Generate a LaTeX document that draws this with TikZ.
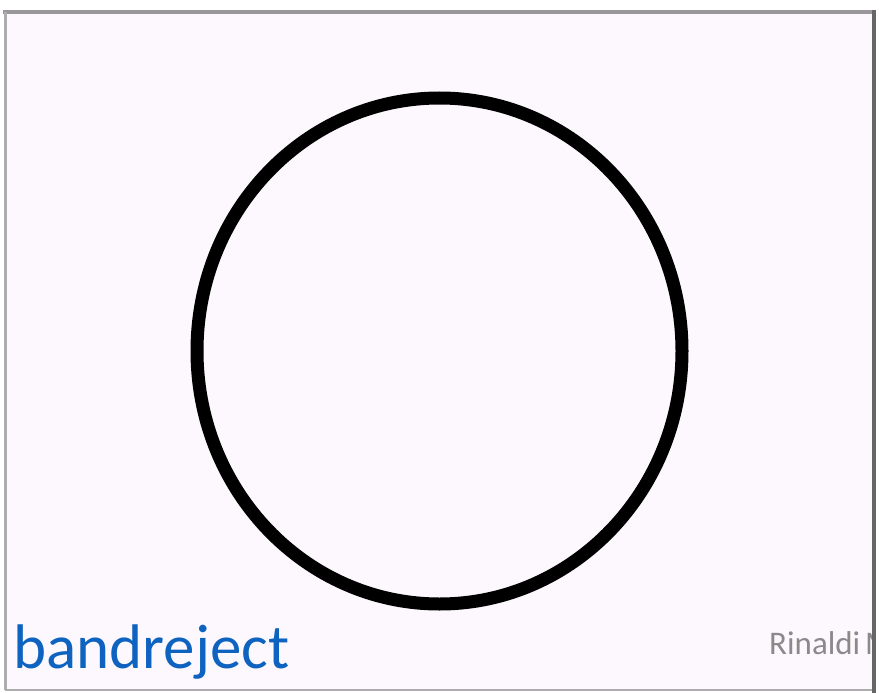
\documentclass[tikz,border=0pt]{standalone}
\usepackage{fontspec}
\setmainfont{Carlito}
\definecolor{slidebg}{HTML}{FDF8FD}
\definecolor{titleblue}{HTML}{0E63C0}
\definecolor{rimgray}{HTML}{9A979A}
\definecolor{authorgray}{HTML}{8A8A8A}
\begin{document}
\begin{tikzpicture}[x=1pt, y=-1pt]
  \useasboundingbox (0,0) rectangle (879,693);
  % slide background and frame
  \fill[slidebg] (5,12) rectangle (874,690);
  \draw[line width=4pt, rimgray] (3,12) -- (876,12);
  \draw[line width=3pt, rimgray!80] (5,12) -- (5,690);
  \draw[line width=1.5pt, rimgray!80] (5,690) -- (874,690);
  % circle
  \draw[line width=13pt] (439.5,351) ellipse [x radius=242.5, y radius=253];
  % labels
  \node[anchor=base west, inner sep=0, font=\fontsize{63}{63}\selectfont, text=titleblue] (title) at (13,668) {bandreject};
  \begin{scope}
    \clip (5,12) rectangle (872,690);
    \node[anchor=base west, inner sep=0, font=\fontsize{33}{33}\selectfont, text=authorgray] (author) at (769,654) {Rinaldi\hspace{0.15em}M};
  \end{scope}
  \draw[line width=4pt, black!60] (874,10) -- (874,693);
\end{tikzpicture}
\end{document}
